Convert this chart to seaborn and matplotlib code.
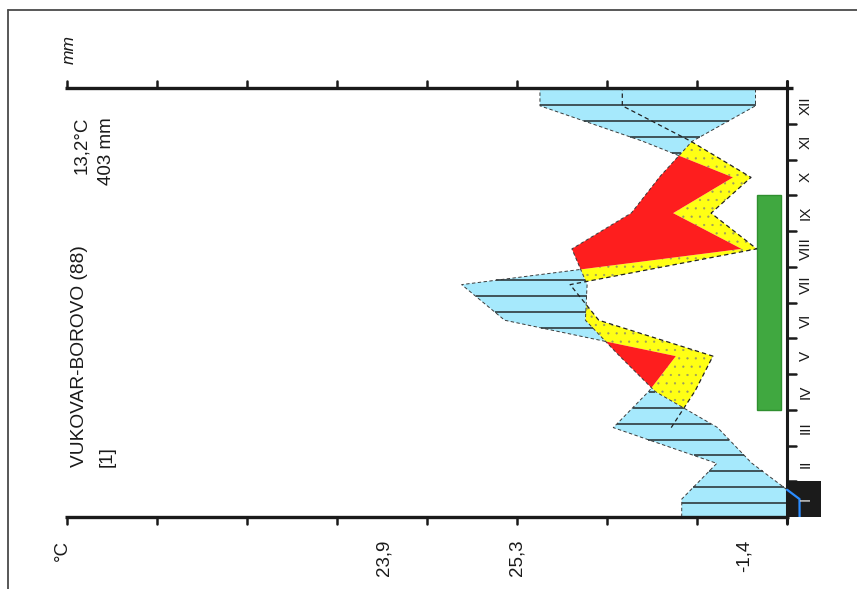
import numpy as np
import pandas as pd
import matplotlib
matplotlib.use("Agg")
import matplotlib.pyplot as plt
import seaborn as sns
from matplotlib.patches import Rectangle
from matplotlib.lines import Line2D

# ---- station data -------------------------------------------------------
station = "VUKOVAR-BOROVO (88)"
years = "[1]"
annual_temp = "13,2°C"
annual_prec = "403 mm"

months = ["I", "II", "III", "IV", "V", "VI", "VII", "VIII", "IX", "X", "XI", "XII"]
temp = [-1.4, 3.9, 7.7, 14.6, 18.6, 22.4, 22.2, 23.9, 17.3, 14.2, 10.6, 3.5]      # °C
prec = [23.4, 15.6, 38.6, 30.8, 24.7, 62.7, 72.3, 10.1, 25.3, 12.0, 31.8, 54.9]   # mm
temp_labels = ["°C", "23,9", "25,3", "-1,4"]
growing_season = (4, 9)          # first and last month of the green bar
temp_ticks = list(range(0, 81, 10))

# ---- style ----------------------------------------------------------------
sns.set_theme(style="white")
plt.rcParams["font.family"] = ["Liberation Sans", "DejaVu Sans"]
plt.rcParams["hatch.linewidth"] = 0.35

BLUE = "#a6e9fc"
RED = "#fe1e1e"
YELLOW = "#ffff14"
GREEN = "#40a840"
INK = "#1a1a1a"

W, H = 857, 589
fig = plt.figure(figsize=(W / 100, H / 100), dpi=100)
fig.patch.set_facecolor("white")

# plot area (pixels); the month axis sits at x0, 10 °C = 20 mm = 90 px
px_left, px_right, px_top, px_bottom = 40, 840, 88, 517
x0, px_per_deg = 787, 9.0
ax = fig.add_axes([px_left / W, 1 - px_bottom / H,
                   (px_right - px_left) / W, (px_bottom - px_top) / H])
ax.set_xlim((x0 - px_left) / px_per_deg, (x0 - px_right) / px_per_deg)
ax.set_ylim(0, 12)
ax.axis("off")
ax.patch.set_alpha(0)

def mpx(n):
    """vertical pixels -> month units"""
    return n * 12 / (px_bottom - px_top)

def dpx(n):
    """horizontal pixels -> degree units"""
    return n / px_per_deg

# ---- curves: monthly values at month centres, held flat to the edges ------
t = np.asarray(temp, float)
p = np.asarray(prec, float)
nodes = np.concatenate([[0.0], np.arange(12) + 0.5, [12.0]])

def ext(v):
    return np.concatenate([[v[0]], v, [v[-1]]])

yy = np.linspace(0, 12, 6001)
T = np.interp(yy, nodes, ext(t))
P2 = np.interp(yy, nodes, ext(p / 2))     # 10 °C = 20 mm
P3 = np.interp(yy, nodes, ext(p / 3))     # 10 °C = 30 mm
Tpos = np.maximum(T, 0)
low = np.minimum(T, P2)

# humid, arid and semi-arid areas
ax.fill_betweenx(yy, P3, low, where=low >= P3, interpolate=True,
                 facecolor=YELLOW, edgecolor="#9a9a60", hatch="..", lw=0, zorder=2)
ax.fill_betweenx(yy, P2, T, where=T >= P2, interpolate=True,
                 facecolor=RED, lw=0, zorder=2)
ax.fill_betweenx(yy, Tpos, P2, where=P2 >= Tpos, interpolate=True,
                 facecolor=BLUE, lw=0, zorder=2)

# horizontal hatching of the humid area
hy = 12 - mpx(17.0)
while hy > 0:
    tk = max(np.interp(hy, nodes, ext(t)), 0)
    pk = np.interp(hy, nodes, ext(p / 2))
    if pk > tk:
        ax.plot([tk, pk], [hy, hy], color="#2e3a3e", lw=1.2,
                solid_capstyle="butt", zorder=3)
    hy -= mpx(15.93)

# dashed outlines
dash = (0, (3.5, 2.5))
p2_edge = np.where(P2 >= Tpos, P2, np.nan)
t_edge = np.where(T > 0, T, np.nan)
ax.plot(p2_edge, yy, color="#3a3a3a", lw=0.7, linestyle=dash, zorder=4)
ax.plot(t_edge, yy, color="#3a3a3a", lw=0.7, linestyle=dash, zorder=4)
spring = yy >= 2.5          # the 30 mm curve is traced from March on
curve = pd.DataFrame({"value": P3[spring], "month": yy[spring]})
sns.lineplot(data=curve, x="value", y="month", sort=False, estimator=None,
             color="#222222", lw=0.9, linestyle=dash, ax=ax, zorder=4)

# frost months box and sub-zero temperature
for i, v in enumerate(t):
    if v < 0:
        ax.add_patch(Rectangle((0, i), -dpx(34), 1, facecolor="#1b1b1b",
                               edgecolor="none", clip_on=False, zorder=5))
cold = pd.DataFrame({"value": T[T <= 0], "month": yy[T <= 0]})
sns.lineplot(data=cold, x="value", y="month", sort=False, estimator=None,
             color="#2b8cff", lw=1.6, ax=ax, zorder=7)

# growing season bar
g0, g1 = growing_season
ax.add_patch(Rectangle((dpx(6), g0 - 1), dpx(24), g1 - g0 + 1,
                       facecolor=GREEN, edgecolor="#2f8f2f", lw=1.0,
                       clip_on=False, zorder=3))

# ---- axes -----------------------------------------------------------------
ax.plot([temp_ticks[-1] + dpx(2), -dpx(6)], [12, 12], color=INK, lw=2.4,
        solid_capstyle="butt", clip_on=False, zorder=6)
ax.plot([temp_ticks[-1] + dpx(2), -dpx(1.5)], [0, 0], color=INK, lw=2.4,
        solid_capstyle="butt", clip_on=False, zorder=6)
for v in temp_ticks:
    ax.plot([v, v], [12, 12 + mpx(7)], color=INK, lw=1.8, clip_on=False, zorder=6)
    ax.plot([v, v], [0, -mpx(7)], color=INK, lw=1.8, clip_on=False, zorder=6)
ax.plot([0, 0], [-mpx(6), 12 + mpx(7)], color=INK, lw=2.2, clip_on=False, zorder=6)
for k in range(1, 12):
    ax.plot([0, -dpx(9)], [k, k], color=INK, lw=1.8, clip_on=False, zorder=6)

for i, m in enumerate(months):
    ax.text(-dpx(19), i + 0.5, m, rotation=90, ha="center", va="center",
            fontsize=11, color="#d8d8d8" if t[i] < 0 else INK, zorder=8)

# ---- text -------------------------------------------------------------------
def ftext(x, y, s, **kw):
    fig.text(x / W, 1 - y / H, s, rotation=90, ha="center", color=INK, **kw)

ftext(81.5, 117, annual_temp, va="top", fontsize=13.5)
ftext(106.5, 117, annual_prec, va="top", fontsize=13.5)
ftext(80, 467, station, va="bottom", fontsize=13.8)
ftext(107, 467, years, va="bottom", fontsize=13.5)
ftext(69, 50, "mm", va="center", fontsize=12.5, style="italic")

for s, xp in zip(temp_labels, [62, 384, 517, 744]):
    ftext(xp, 540, s, va="top", fontsize=13.5)

# outer frame
fig.add_artist(Line2D([8 / W, 8 / W], [1 - 10 / H, 0], transform=fig.transFigure,
                      color="#4a4a4a", lw=1.3))
fig.add_artist(Line2D([8 / W, 1], [1 - 10 / H, 1 - 10 / H], transform=fig.transFigure,
                      color="#4a4a4a", lw=1.3))

fig.savefig("out.png", dpi=100, facecolor="white")
